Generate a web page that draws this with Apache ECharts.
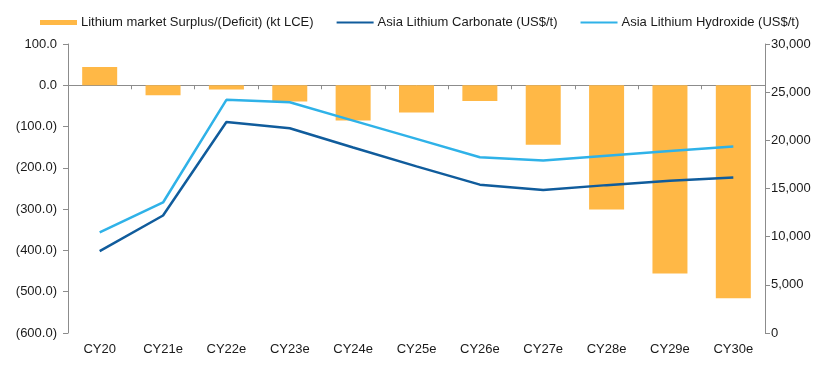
<!DOCTYPE html>
<html>
<head>
<meta charset="utf-8">
<script src="https://cdn.jsdelivr.net/npm/echarts@6/dist/echarts.min.js"></script>
<style>
html,body{margin:0;padding:0;background:#fff;}
#chart{width:834px;height:369px;}
</style>
</head>
<body>
<div id="chart"></div>
<script>
var categories = ['CY20','CY21e','CY22e','CY23e','CY24e','CY25e','CY26e','CY27e','CY28e','CY29e','CY30e'];
var surplusDeficit = [44, -24, -10, -39, -85, -66, -38, -144, -301, -456, -516];
var carbonatePrice = [8500, 12200, 21900, 21250, 19250, 17300, 15400, 14850, 15350, 15800, 16150];
var hydroxidePrice = [10450, 13550, 24200, 23950, 22050, 20150, 18250, 17900, 18400, 18900, 19350];
var seriesNames = ['Lithium market Surplus/(Deficit) (kt LCE)','Asia Lithium Carbonate (US$/t)','Asia Lithium Hydroxide (US$/t)'];

var font = 'Arial, "Liberation Sans", sans-serif';
var textColor = '#1a1a1a';
var axisColor = '#8c8c8c';

var chart = echarts.init(document.getElementById('chart'), null, {renderer:'canvas'});
chart.setOption({
  animation: false,
  backgroundColor: '#ffffff',
  textStyle: {fontFamily: font},
  legend: {
    left: 40, top: 16, padding: 0,
    itemWidth: 37, itemHeight: 5, itemGap: 22,
    textStyle: {fontSize: 13, color: textColor, fontFamily: font, padding: [0,0,0,-1]},
    data: [
      {name: seriesNames[0], icon: 'rect'},
      {name: seriesNames[1], itemStyle: {opacity: 0}},
      {name: seriesNames[2], itemStyle: {opacity: 0}}
    ]
  },
  grid: {left: 68, right: 69, top: 44, bottom: 36, containLabel: false},
  xAxis: [
    {
      type: 'category', data: categories, position: 'bottom',
      axisLine: {show: false, onZero: false}, axisTick: {show: false},
      axisLabel: {fontSize: 13, color: textColor, fontFamily: font, margin: 10}
    },
    {
      type: 'category', data: categories, position: 'bottom',
      axisLine: {show: true, onZero: true, onZeroAxisIndex: 0, lineStyle: {color: axisColor, width: 1}},
      axisTick: {show: true, length: 4, lineStyle: {color: axisColor}},
      axisLabel: {show: false}
    }
  ],
  yAxis: [
    {
      type: 'value', min: -600, max: 100, interval: 100, position: 'left',
      axisLine: {show: true, lineStyle: {color: axisColor}},
      axisTick: {show: true, length: 5, lineStyle: {color: axisColor}},
      splitLine: {show: false},
      axisLabel: {fontSize: 13, color: textColor, fontFamily: font, margin: 11,
        formatter: function(v){ return v < 0 ? '(' + Math.abs(v).toFixed(1) + ')' : v.toFixed(1); }}
    },
    {
      type: 'value', min: 0, max: 30000, interval: 5000, position: 'right',
      axisLine: {show: true, lineStyle: {color: axisColor}},
      axisTick: {show: true, length: 5, lineStyle: {color: axisColor}},
      splitLine: {show: false},
      axisLabel: {fontSize: 13, color: textColor, fontFamily: font, margin: 6,
        formatter: function(v){ return v.toLocaleString('en-US'); }}
    }
  ],
  series: [
    {
      name: seriesNames[0], type: 'bar', xAxisIndex: 0, yAxisIndex: 0,
      data: surplusDeficit, barWidth: 35,
      itemStyle: {color: '#FFB846'}, z: 1
    },
    {
      name: seriesNames[1], type: 'line', xAxisIndex: 0, yAxisIndex: 1,
      data: carbonatePrice, symbol: 'none', showSymbol: false,
      lineStyle: {color: '#105C9C', width: 2.5}, itemStyle: {color: '#105C9C'}, z: 3
    },
    {
      name: seriesNames[2], type: 'line', xAxisIndex: 0, yAxisIndex: 1,
      data: hydroxidePrice, symbol: 'none', showSymbol: false,
      lineStyle: {color: '#2FB2E8', width: 2.5}, itemStyle: {color: '#2FB2E8'}, z: 3
    }
  ]
});
</script>
</body>
</html>
